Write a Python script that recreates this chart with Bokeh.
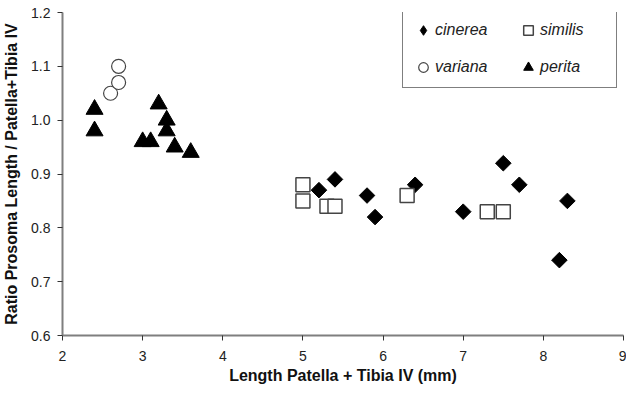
import numpy as np
from bokeh.plotting import figure
from bokeh.models import FixedTicker, Range1d, Legend, LegendItem, PrintfTickFormatter
from bokeh.embed import file_html
from bokeh.resources import INLINE

# ---- data ----
cinerea_x = [5.2, 5.4, 5.8, 5.9, 6.4, 7.0, 7.5, 7.7, 8.2, 8.3]
cinerea_y = [0.87, 0.89, 0.86, 0.82, 0.88, 0.83, 0.92, 0.88, 0.74, 0.85]
similis_x = [5.0, 5.0, 5.3, 5.4, 6.3, 7.3, 7.5]
similis_y = [0.88, 0.85, 0.84, 0.84, 0.86, 0.83, 0.83]
variana_x = [2.6, 2.7, 2.7]
variana_y = [1.05, 1.07, 1.10]
perita_x = [2.4, 2.4, 3.0, 3.1, 3.2, 3.3, 3.3, 3.4, 3.6]
perita_y = [1.02, 0.98, 0.96, 0.96, 1.03, 1.00, 0.98, 0.95, 0.94]

series_names = ["cinerea", "similis", "variana", "perita"]
x_ticks = [2, 3, 4, 5, 6, 7, 8, 9]
y_ticks = [0.6, 0.7, 0.8, 0.9, 1.0, 1.1, 1.2]
x_title = "Length Patella + Tibia IV (mm)"
y_title = "Ratio Prosoma Length / Patella+Tibia IV"

FONT = "Liberation Sans"

p = figure(width=626, height=387, output_backend="svg", toolbar_location=None,
           x_range=Range1d(2, 9), y_range=Range1d(0.6, 1.2),
           min_border_left=62, min_border_right=3, min_border_top=12, min_border_bottom=52,
           background_fill_color="white", border_fill_color="white")
p.outline_line_color = None
p.xgrid.visible = False
p.ygrid.visible = False

for ax in (p.xaxis[0], p.yaxis[0]):
    ax.axis_line_color = "#7f7f7f"
    ax.axis_line_width = 2
    ax.major_tick_line_color = "#333333"
    ax.major_tick_line_width = 1
    ax.major_tick_in = 0
    ax.major_tick_out = 5
    ax.minor_tick_line_color = None
    ax.major_label_text_font = FONT
    ax.major_label_text_font_size = "14px"
    ax.major_label_text_color = "#222222"
    ax.axis_label_text_font = FONT
    ax.axis_label_text_font_style = "bold"
    ax.axis_label_text_font_size = "16px"
    ax.axis_label_text_color = "#111111"

p.xaxis.ticker = FixedTicker(ticks=x_ticks)
p.yaxis.ticker = FixedTicker(ticks=y_ticks)
p.yaxis.formatter = PrintfTickFormatter(format="%.1f")
p.xaxis.axis_label = x_title
p.yaxis.axis_label = y_title
p.xaxis.major_label_standoff = 10
p.xaxis.axis_label_standoff = 3
p.yaxis.major_label_standoff = 7
p.yaxis.axis_label_standoff = 8

r_cin = p.scatter(cinerea_x, cinerea_y, marker="square", angle=np.pi / 4, size=11,
                  fill_color="black", line_color="black", line_width=1)
r_sim = p.scatter(similis_x, similis_y, marker="square", size=14,
                  fill_color="white", line_color="#444444", line_width=1.5)
r_var = p.scatter(variana_x, variana_y, marker="circle", size=14,
                  fill_color="white", line_color="#444444", line_width=1.2)
r_per = p.scatter(perita_x, perita_y, marker="triangle", size=17,
                  fill_color="black", line_color="black", line_width=1)

# hidden twin of the cinerea series, used only as the legend key
# (the legend does not rotate markers, so it shows a diamond instead)
r_cin_key = p.scatter(cinerea_x, cinerea_y, marker="diamond", size=11,
                      fill_color="black", line_color="black", line_width=1,
                      visible=False)

legend = Legend(items=[LegendItem(label=series_names[0], renderers=[r_cin_key]),
                       LegendItem(label=series_names[1], renderers=[r_sim]),
                       LegendItem(label=series_names[2], renderers=[r_var]),
                       LegendItem(label=series_names[3], renderers=[r_per])],
                location=(340, 247), orientation="horizontal", ncols=2,
                label_text_font=FONT, label_text_font_style="italic",
                label_text_font_size="16px", label_text_color="#222222",
                border_line_color="black", border_line_width=1,
                background_fill_color="white", background_fill_alpha=1,
                inactive_fill_alpha=0,
                padding=8, spacing=13, glyph_width=24, glyph_height=24,
                label_standoff=0, label_width=68, margin=0)
p.add_layout(legend, "center")

open("out.html", "w").write(file_html(p, INLINE))
